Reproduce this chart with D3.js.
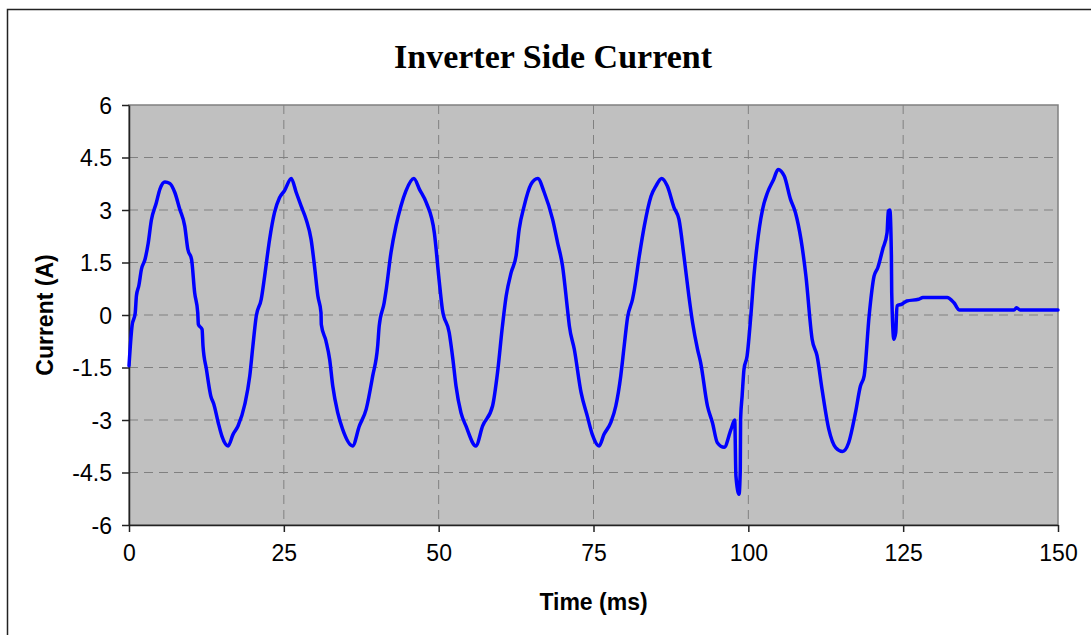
<!DOCTYPE html>
<html>
<head>
<meta charset="utf-8">
<script src="https://cdn.jsdelivr.net/npm/d3@7"></script>
<style>
    body { margin: 0; background: #fff; }
    .tick text { font-family: "Liberation Sans", Arial, sans-serif; font-size: 23px; fill: #000; }
</style>
</head>
<body>
<svg id="canvas" width="1091" height="635"></svg>
<script>
/** Values */
const timeMs = [
    0, 0.5, 1.0, 1.2, 1.6, 2.0, 2.6, 3.1, 3.6, 4.4, 5.0, 5.8, 6.6, 7.4, 8.2, 9.0, 9.5, 10.1, 10.6, 11.1,
    11.2, 11.8, 11.95, 12.5, 13.2, 13.7, 14.4, 15.0, 16.0, 16.8, 17.6, 18.7, 19.5, 20.0, 20.55, 21.35, 21.9, 22.7, 23.5, 24.3,
    25.1, 26.2, 27.0, 27.8, 28.6, 29.4, 29.95, 30.5, 31.0, 31.05, 31.8, 32.4, 32.9, 33.7, 34.5, 36.1, 37.2, 38.3, 39.35, 40.15,
    40.4, 41.2, 41.5, 42.3, 43.1, 43.9, 44.7, 46.0, 46.9, 48.0, 49.3, 50.1, 50.6, 51.7, 52.3, 52.8, 53.6, 54.4, 56.0, 57.1,
    58.7, 59.5, 60.3, 60.9, 61.7, 62.5, 63.0, 63.8, 64.9, 66.0, 67.05, 68.4, 69.2, 70.0, 70.8, 71.1, 71.9, 73.0, 74.0, 74.8,
    75.9, 76.7, 77.8, 78.6, 79.4, 79.95, 80.5, 81.3, 81.6, 82.4, 83.2, 84.3, 85.1, 86.0, 86.9, 88.0, 88.8, 89.6, 90.4, 91.0,
    91.8, 92.3, 93.4, 94.2, 95.0, 96.1, 97.2, 97.8, 98.0, 98.5, 98.7, 98.75, 99.0, 99.3, 99.8, 100.4, 100.9, 101.4, 102.3, 103.1,
    104.1, 104.8, 105.8, 106.8, 107.6, 108.5, 109.3, 110.3, 111.1, 111.9, 113.0, 114.1, 115.2, 116.2, 117.3, 118.1, 118.7, 119.5, 120.3, 120.9,
    121.7, 122.4, 122.6, 122.85, 123.1, 123.15, 123.5, 123.8, 124.0, 124.8, 125.6, 127.5, 128.2, 132.1, 133.2, 134.1, 142.9, 143.3, 143.9, 150
];

const currentA = [
    -1.45, -0.3, 0.05, 0.55, 0.85, 1.3, 1.6, 2.05, 2.7, 3.2, 3.6, 3.8, 3.76, 3.5, 3.02, 2.54, 1.88, 1.59, 0.64, 0.07,
    -0.27, -0.41, -0.89, -1.55, -2.31, -2.55, -3.07, -3.46, -3.74, -3.41, -3.17, -2.55, -1.74, -0.89, -0.03, 0.45, 1.11, 2.16, 2.93, 3.35,
    3.55, 3.9, 3.5, 3.11, 2.73, 2.16, 1.4, 0.54, 0.07, -0.27, -0.74, -1.27, -2.03, -2.79, -3.27, -3.74, -3.17, -2.69, -1.74, -0.89,
    -0.31, 0.35, 0.69, 1.78, 2.54, 3.11, 3.54, 3.9, 3.59, 3.21, 2.35, 0.95, 0.16, -0.5, -1.27, -2.03, -2.79, -3.17, -3.74, -3.17,
    -2.6, -1.65, -0.31, 0.54, 1.21, 1.69, 2.45, 3.11, 3.73, 3.9, 3.5, 2.73, 2.07, 1.4, 0.16, -0.31, -0.98, -2.22, -2.89, -3.41,
    -3.74, -3.41, -3.07, -2.6, -1.74, -0.89, -0.07, 0.45, 0.73, 1.69, 2.54, 3.4, 3.69, 3.9, 3.69, 3.07, 2.73, 1.69, 0.54, -0.22,
    -0.98, -1.36, -2.6, -3.07, -3.65, -3.78, -3.27, -3.0, -4.6, -5.12, -4.41, -2.98, -2.31, -1.55, -1.17, -0.03, 1.11, 1.97, 3.02, 3.5,
    3.88, 4.16, 3.97, 3.31, 2.93, 2.16, 1.11, -0.69, -1.17, -2.12, -3.27, -3.79, -3.9, -3.65, -2.79, -2.03, -1.74, -0.03, 1.11, 1.35,
    1.88, 2.35, 2.97, 3.0, 1.69, 0.64, -0.69, -0.5, 0.26, 0.31, 0.4, 0.45, 0.5, 0.5, 0.35, 0.14, 0.14, 0.21, 0.14, 0.14
];

const xTicks = [0, 25, 50, 75, 100, 125, 150];
const yTicks = [-6, -4.5, -3, -1.5, 0, 1.5, 3, 4.5, 6];

/** Plot area */
const plotLeft = 129, plotRight = 1058, plotTop = 105, plotBottom = 525;

let canvas = d3.select('#canvas');

let xScale = d3.scaleLinear().domain([0, 150]).range([plotLeft, plotRight]);
let yScale = d3.scaleLinear().domain([-6, 6]).range([plotBottom, plotTop]);

/** Outer chart frame (runs off the right and bottom) */
canvas.append('rect')
    .attr('x', 7.5)
    .attr('y', 9.5)
    .attr('width', 1200)
    .attr('height', 800)
    .attr('fill', 'none')
    .attr('stroke', '#222')
    .attr('stroke-width', 1.5);

/** Grey plot background */
canvas.append('rect')
    .attr('x', plotLeft)
    .attr('y', plotTop)
    .attr('width', plotRight - plotLeft)
    .attr('height', plotBottom - plotTop)
    .attr('fill', '#c0c0c0')
    .attr('stroke', '#808080')
    .attr('stroke-width', 1.5);

/** Dashed gridlines */
canvas.append('g')
    .selectAll('line')
    .data(yTicks.filter((v) => v > -6 && v < 6))
    .enter()
    .append('line')
    .attr('x1', plotLeft)
    .attr('x2', plotRight)
    .attr('y1', (v) => yScale(v))
    .attr('y2', (v) => yScale(v))
    .attr('stroke', '#808080')
    .attr('stroke-dasharray', '9,6');

canvas.append('g')
    .selectAll('line')
    .data(xTicks.filter((t) => t > 0 && t < 150))
    .enter()
    .append('line')
    .attr('x1', (t) => xScale(t))
    .attr('x2', (t) => xScale(t))
    .attr('y1', plotTop)
    .attr('y2', plotBottom)
    .attr('stroke', '#808080')
    .attr('stroke-dasharray', '9,6');

/** Axes */
let xAxis = d3.axisBottom(xScale)
    .tickValues(xTicks)
    .tickFormat(d3.format('d'))
    .tickSize(7)
    .tickPadding(13)
    .tickSizeOuter(0);

let yAxis = d3.axisLeft(yScale)
    .tickValues(yTicks)
    .tickFormat((v) => `${v}`)
    .tickSize(7)
    .tickPadding(10)
    .tickSizeOuter(0);

let gx = canvas.append('g')
    .attr('transform', `translate(0,${plotBottom})`)
    .call(xAxis);

let gy = canvas.append('g')
    .attr('transform', `translate(${plotLeft},0)`)
    .call(yAxis);

gx.selectAll('path, line').attr('stroke', '#222').attr('stroke-width', 1.5);
gy.selectAll('path, line').attr('stroke', '#222').attr('stroke-width', 1.5);
gy.selectAll('text').attr('dy', '0.35em');

/** The current trace */
let points = timeMs.map((t, i) => [t, currentA[i]]);

let line = d3.line()
    .x((d) => xScale(d[0]))
    .y((d) => yScale(d[1]))
    .curve(d3.curveMonotoneX);

canvas.append('path')
    .datum(points)
    .attr('d', line)
    .attr('fill', 'none')
    .attr('stroke', '#0000ff')
    .attr('stroke-width', 3.5)
    .attr('stroke-linejoin', 'round')
    .attr('stroke-linecap', 'round');

/** Title and axis titles */
canvas.append('text')
    .attr('x', 553)
    .attr('y', 68)
    .attr('text-anchor', 'middle')
    .style('font-family', '"Liberation Serif", "Times New Roman", serif')
    .style('font-weight', 'bold')
    .style('font-size', '34px')
    .text('Inverter Side Current');

canvas.append('text')
    .attr('x', (plotLeft + plotRight) / 2)
    .attr('y', 610)
    .attr('text-anchor', 'middle')
    .style('font-family', '"Liberation Sans", Arial, sans-serif')
    .style('font-weight', 'bold')
    .style('font-size', '23px')
    .text('Time (ms)');

canvas.append('text')
    .attr('transform', `translate(53,${(plotTop + plotBottom) / 2}) rotate(-90)`)
    .attr('text-anchor', 'middle')
    .style('font-family', '"Liberation Sans", Arial, sans-serif')
    .style('font-weight', 'bold')
    .style('font-size', '23px')
    .text('Current (A)');
</script>
</body>
</html>
